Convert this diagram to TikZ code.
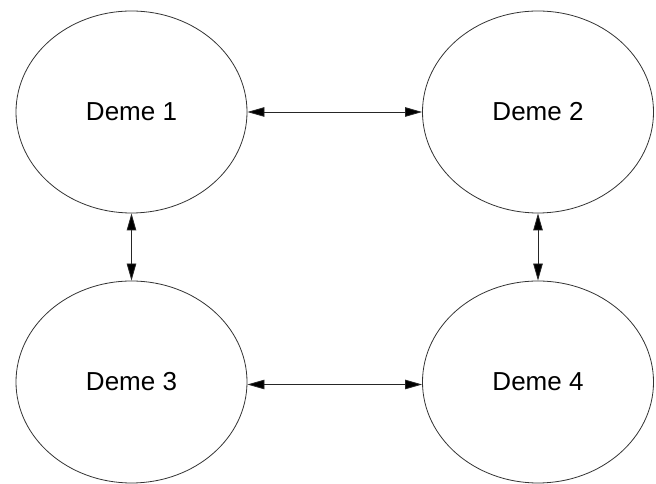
\documentclass[tikz,border=0pt]{standalone}
\usepackage{fontspec}
\setmainfont{Liberation Sans}
\usetikzlibrary{shapes.geometric,arrows.meta}
\begin{document}
\begin{tikzpicture}[x=1pt,y=1pt,
  deme/.style={draw=black!80, line width=0.8pt, ellipse, inner sep=0pt,
    minimum width=231pt, minimum height=202pt,
    font=\fontsize{26}{30}\selectfont},
  link/.style={draw=black!85, line width=0.8pt,
    {Triangle[length=17pt,width=9.5pt,fill=black]}-{Triangle[length=17pt,width=9.5pt,fill=black]}}]
  \useasboundingbox (0,0) rectangle (656,484);
  \node[deme] (d1) at (131.5,372) {Deme 1};
  \node[deme] (d2) at (538,372) {Deme 2};
  \node[deme] (d3) at (131.5,102) {Deme 3};
  \node[deme] (d4) at (538,102) {Deme 4};
  \draw[link] (d1.east) -- (d2.west);
  \draw[link] ([yshift=-2.5pt]d3.east) -- ([yshift=-2.5pt]d4.west);
  \draw[link] (d1.south) -- (d3.north);
  \draw[link] (d2.south) -- (d4.north);
\end{tikzpicture}
\end{document}
